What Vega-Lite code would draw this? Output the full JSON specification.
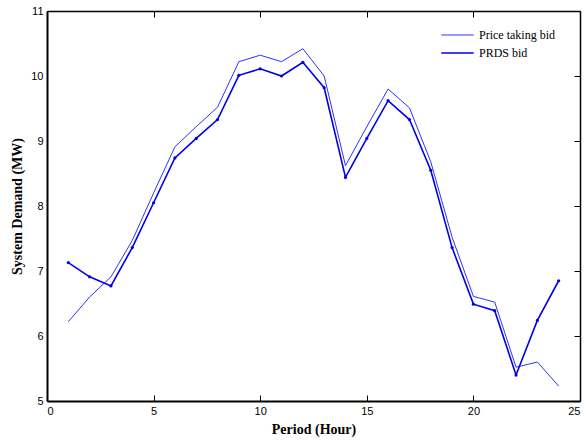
{
  "$schema": "https://vega.github.io/schema/vega-lite/v6.json",
  "width": 533,
  "height": 390,
  "autosize": {"type": "none"},
  "padding": {"left": 47, "top": 11, "right": 7, "bottom": 40},
  "background": "white",
  "config": {
    "view": {"stroke": null},
    "axis": {"domainColor": "black", "domainWidth": 2, "tickColor": "black", "tickWidth": 1, "tickSize": -6, "grid": false, "labelFont": "Liberation Sans", "labelFontSize": 11, "labelColor": "black", "titleFont": "Liberation Serif", "titleFontSize": 14, "titleFontWeight": "bold", "titleColor": "black"}
  },
  "data": {"values": [
    {"h":1,"s":"Price taking bid","v":6.22},{"h":2,"s":"Price taking bid","v":6.6},{"h":3,"s":"Price taking bid","v":6.91},{"h":4,"s":"Price taking bid","v":7.47},{"h":5,"s":"Price taking bid","v":8.2},{"h":6,"s":"Price taking bid","v":8.91},{"h":7,"s":"Price taking bid","v":9.22},{"h":8,"s":"Price taking bid","v":9.52},{"h":9,"s":"Price taking bid","v":10.22},{"h":10,"s":"Price taking bid","v":10.32},{"h":11,"s":"Price taking bid","v":10.22},{"h":12,"s":"Price taking bid","v":10.42},{"h":13,"s":"Price taking bid","v":10.0},{"h":14,"s":"Price taking bid","v":8.62},{"h":15,"s":"Price taking bid","v":9.22},{"h":16,"s":"Price taking bid","v":9.8},{"h":17,"s":"Price taking bid","v":9.51},{"h":18,"s":"Price taking bid","v":8.68},{"h":19,"s":"Price taking bid","v":7.52},{"h":20,"s":"Price taking bid","v":6.61},{"h":21,"s":"Price taking bid","v":6.52},{"h":22,"s":"Price taking bid","v":5.52},{"h":23,"s":"Price taking bid","v":5.6},{"h":24,"s":"Price taking bid","v":5.23},
    {"h":1,"s":"PRDS bid","v":7.13},{"h":2,"s":"PRDS bid","v":6.91},{"h":3,"s":"PRDS bid","v":6.77},{"h":4,"s":"PRDS bid","v":7.36},{"h":5,"s":"PRDS bid","v":8.05},{"h":6,"s":"PRDS bid","v":8.74},{"h":7,"s":"PRDS bid","v":9.04},{"h":8,"s":"PRDS bid","v":9.33},{"h":9,"s":"PRDS bid","v":10.01},{"h":10,"s":"PRDS bid","v":10.11},{"h":11,"s":"PRDS bid","v":10.0},{"h":12,"s":"PRDS bid","v":10.21},{"h":13,"s":"PRDS bid","v":9.82},{"h":14,"s":"PRDS bid","v":8.44},{"h":15,"s":"PRDS bid","v":9.04},{"h":16,"s":"PRDS bid","v":9.62},{"h":17,"s":"PRDS bid","v":9.33},{"h":18,"s":"PRDS bid","v":8.55},{"h":19,"s":"PRDS bid","v":7.36},{"h":20,"s":"PRDS bid","v":6.49},{"h":21,"s":"PRDS bid","v":6.39},{"h":22,"s":"PRDS bid","v":5.4},{"h":23,"s":"PRDS bid","v":6.24},{"h":24,"s":"PRDS bid","v":6.85}
  ]},
  "layer": [
    {
      "mark": {"type": "line"},
      "encoding": {
        "x": {"field": "h", "type": "quantitative", "scale": {"domain": [0, 25], "nice": false}, "axis": {"values": [0,5,10,15,20,25], "title": "Period (Hour)", "labelPadding": 10, "titlePadding": 6}},
        "y": {"field": "v", "type": "quantitative", "scale": {"domain": [5, 11], "nice": false, "zero": false}, "axis": {"values": [5,6,7,8,9,10,11], "title": "System Demand (MW)", "ticks": false, "labelPadding": 4, "titlePadding": 6}},
        "color": {"field": "s", "type": "nominal", "sort": ["Price taking bid", "PRDS bid"], "scale": {"domain": ["Price taking bid", "PRDS bid"], "range": ["#3030ff", "#0000e8"]},
          "legend": {"title": null, "orient": "none", "legendX": 393, "legendY": 17, "symbolType": "stroke", "symbolSize": 1050, "clipHeight": 14, "labelFont": "Liberation Serif", "labelFontSize": 12, "labelColor": "black", "rowPadding": 4, "labelOffset": 4}},
        "strokeWidth": {"field": "s", "type": "nominal", "sort": ["Price taking bid", "PRDS bid"], "scale": {"domain": ["Price taking bid", "PRDS bid"], "range": [1, 1.6]}, "legend": null}
      }
    },
    {
      "transform": [{"filter": "datum.s == 'PRDS bid'"}],
      "mark": {"type": "point", "filled": true, "size": 10, "color": "#0000e8", "opacity": 1},
      "encoding": {
        "x": {"field": "h", "type": "quantitative", "axis": null},
        "y": {"field": "v", "type": "quantitative", "axis": null}
      }
    },
    {
      "mark": {"type": "point", "opacity": 0},
      "encoding": {
        "x": {"field": "h", "type": "quantitative", "scale": {"domain": [0, 25], "nice": false}, "axis": {"orient": "top", "values": [0,5,10,15,20,25], "labels": false, "title": null, "domainWidth": 1.5}},
        "y": {"field": "v", "type": "quantitative", "scale": {"domain": [5, 11], "nice": false, "zero": false}, "axis": {"orient": "right", "values": [5,6,7,8,9,10,11], "labels": false, "title": null, "domainWidth": 1.5}}
      }
    }
  ],
  "resolve": {"axis": {"x": "independent", "y": "independent"}}
}
